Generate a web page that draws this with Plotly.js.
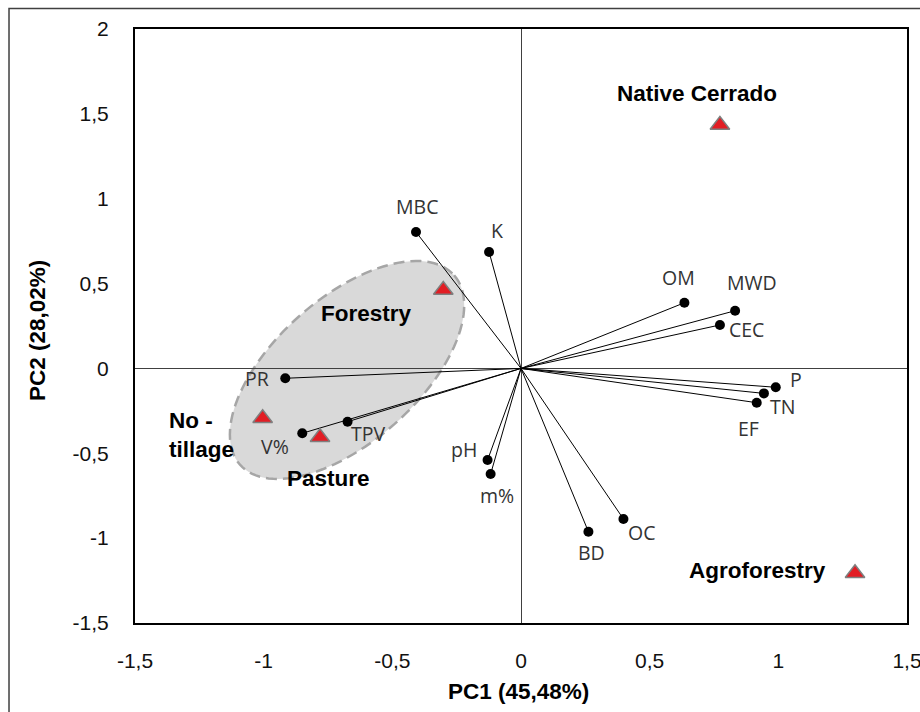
<!DOCTYPE html>
<html>
<head>
<meta charset="utf-8">
<script src="https://cdn.plot.ly/plotly-3.0.1.min.js"></script>
<style>html,body{margin:0;padding:0;background:#fff;}#chart{width:920px;height:712px;}</style>
</head>
<body>
<div id="chart"></div>
<script>
// Variable loadings (PC1, PC2)
const varNames = ['MBC','K','OM','MWD','CEC','P','TN','EF','pH','m%','BD','OC','PR','V%','TPV'];
const varPC1 = [-0.408,-0.124,0.635,0.832,0.773,0.990,0.944,0.916,-0.130,-0.118,0.262,0.398,-0.916,-0.850,-0.674];
const varPC2 = [0.804,0.686,0.387,0.340,0.256,-0.111,-0.147,-0.202,-0.540,-0.622,-0.962,-0.887,-0.058,-0.382,-0.314];

// Land-use scores (PC1, PC2)
const siteNames = ['Native Cerrado','Forestry','No -<br>tillage','Pasture','Agroforestry'];
const sitePC1 = [0.773,-0.302,-1.004,-0.781,1.298];
const sitePC2 = [1.434,0.462,-0.294,-0.406,-1.207];

// Axis ticks
const tickVals = [-1.5,-1,-0.5,0,0.5,1,1.5,2];
const tickText = ['-1,5','-1','-0,5','0','0,5','1','1,5','2'];

// Label offsets (pixels, style only)
const varLabelOffset = {
  'MBC':[1,25],'K':[8,22],'OM':[-6,25],'MWD':[17,28],'CEC':[27,-5],'P':[20,8],'TN':[19,-13],
  'EF':[-8,-26],'pH':[-24,11],'m%':[6,-22],'BD':[3,-21],'OC':[18,-14],'PR':[-28,0],'V%':[-27,-13],'TPV':[20,-12]
};
const siteLabelOffset = [[-23,32,'center'],[-77,-23,'center'],[-96,-17,'left'],[8,-41,'center'],[-98,3,'center']];

// Grouping ellipse (center and semi-axis vectors in data units)
const ell = {cx:-0.676, cy:-0.009, ux:0.416, uy:0.558, vx:0.185, vy:-0.318};
let ellPath = '';
for (let i = 0; i <= 120; i++) {
  const t = 2*Math.PI*i/120;
  const px = ell.cx + ell.ux*Math.cos(t) + ell.vx*Math.sin(t);
  const py = ell.cy + ell.uy*Math.cos(t) + ell.vy*Math.sin(t);
  ellPath += (i===0 ? 'M' : 'L') + px.toFixed(4) + ',' + py.toFixed(4);
}
ellPath += 'Z';

// vector segments
const segX = [], segY = [];
varNames.forEach((n,i)=>{ segX.push(0, varPC1[i], null); segY.push(0, varPC2[i], null); });

const traces = [
  {x:segX, y:segY, mode:'lines', line:{color:'#000', width:1}, hoverinfo:'skip', showlegend:false},
  {x:varPC1, y:varPC2, mode:'markers', marker:{color:'#000', size:10}, hoverinfo:'skip', showlegend:false},
  {x:sitePC1, y:sitePC2, mode:'markers', marker:{symbol:'triangle-up', color:'#e21d24', size:17, line:{color:'#7f7f7f', width:1.5}}, hoverinfo:'skip', showlegend:false}
];

const annotations = [];
varNames.forEach((n,i)=>{
  const o = varLabelOffset[n];
  annotations.push({x:varPC1[i], y:varPC2[i], xref:'x', yref:'y', text:n, showarrow:false,
    xshift:o[0], yshift:o[1], xanchor:'center', yanchor:'middle',
    font:{family:'"Open Sans", sans-serif', size:19.5, color:'#333'}});
});
siteNames.forEach((n,i)=>{
  const o = siteLabelOffset[i];
  annotations.push({x:sitePC1[i], y:sitePC2[i], xref:'x', yref:'y', text:'<b>'+n+'</b>', showarrow:false,
    xshift:o[0], yshift:o[1], xanchor:o[2], yanchor:'middle', align:'left',
    font:{family:'"Liberation Sans", Arial, sans-serif', size:22.5, color:'#000'}});
});
annotations.push({x:0.497, y:-0.116, xref:'paper', yref:'paper', text:'<b>PC1 (45,48%)</b>', showarrow:false,
  xanchor:'center', yanchor:'middle', font:{family:'"Liberation Sans", Arial, sans-serif', size:22.5, color:'#000'}});
annotations.push({x:-0.127, y:0.493, xref:'paper', yref:'paper', text:'<b>PC2 (28,02%)</b>', showarrow:false, textangle:-90,
  xanchor:'center', yanchor:'middle', font:{family:'"Liberation Sans", Arial, sans-serif', size:22.5, color:'#000'}});

const axisCommon = {
  showgrid:false, zeroline:true, zerolinecolor:'#404040', zerolinewidth:1,
  showline:true, mirror:true, linecolor:'#000', linewidth:2,
  ticks:'outside', tickcolor:'rgba(0,0,0,0)', tickmode:'array', tickvals:tickVals, ticktext:tickText,
  ticklabeloverflow:'allow',
  tickfont:{family:'"Liberation Sans", Arial, sans-serif', size:21, color:'#111'}, fixedrange:true
};

const layout = {
  width:920, height:712,
  margin:{l:135, r:13, t:29, b:89},
  paper_bgcolor:'#fff', plot_bgcolor:'#fff',
  xaxis:Object.assign({}, axisCommon, {range:[-1.5,1.5], ticklen:18}),
  yaxis:Object.assign({}, axisCommon, {range:[-1.5,2], ticklen:20}),
  showlegend:false,
  annotations:annotations,
  shapes:[
    {type:'path', xref:'x', yref:'y', path:ellPath, fillcolor:'#d9d9d9', line:{color:'#a6a6a6', width:2.5, dash:'11px,6px'}, layer:'below'},
    {type:'rect', xref:'paper', yref:'paper', x0:-0.1632, x1:1.2, y0:-0.3, y1:1.0345, line:{color:'#404040', width:1.5}, fillcolor:'rgba(0,0,0,0)', layer:'above'}
  ]
};

Plotly.newPlot('chart', traces, layout, {displayModeBar:false, staticPlot:true});
</script>
</body>
</html>
